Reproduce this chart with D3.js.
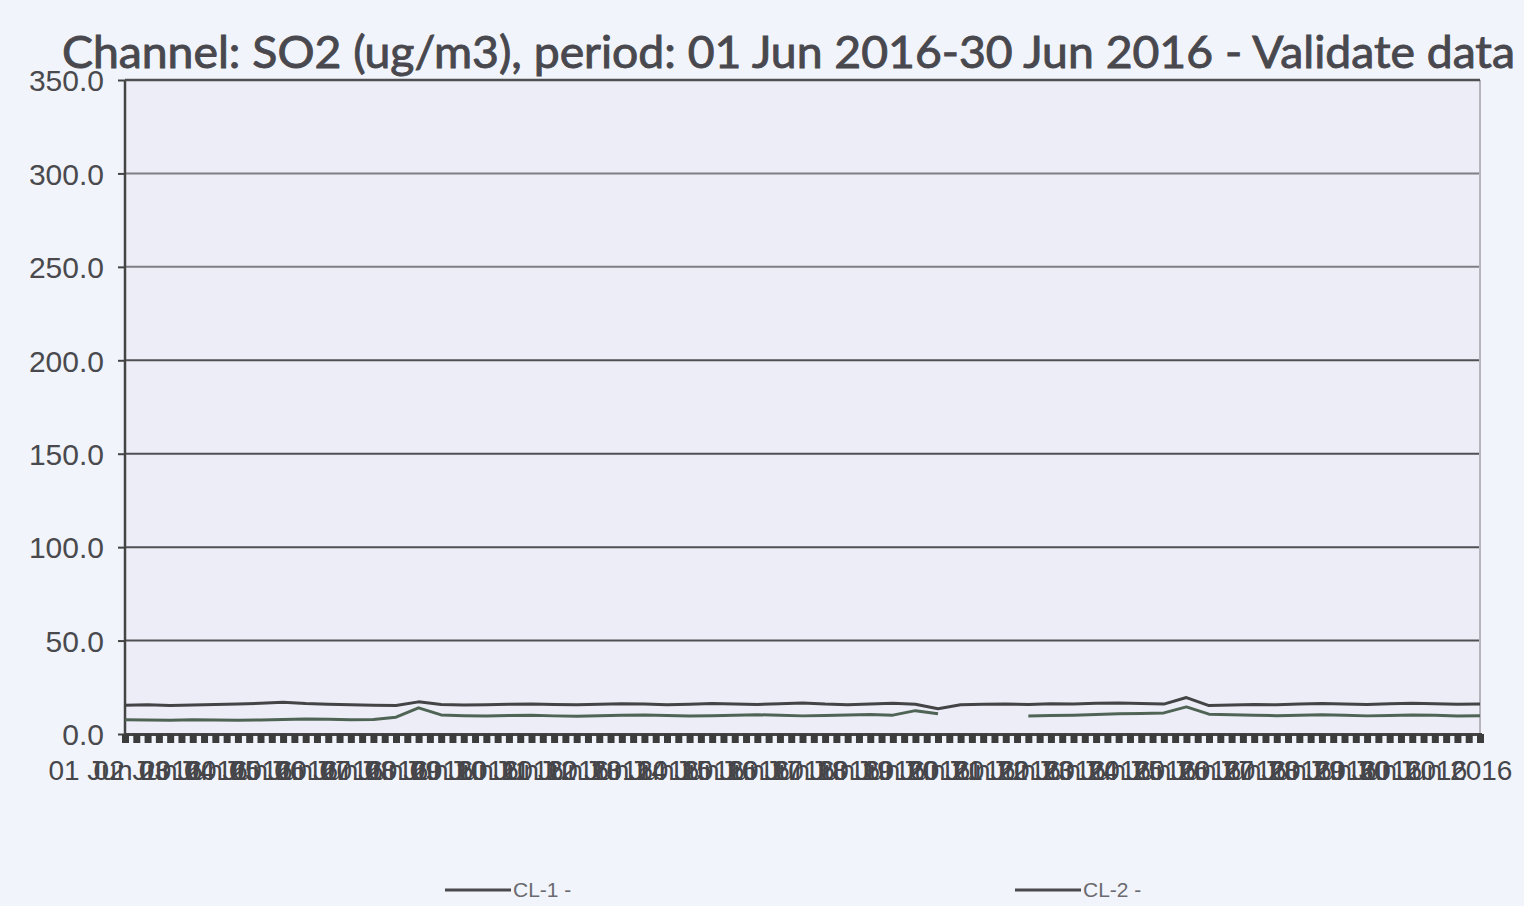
<!DOCTYPE html>
<html>
<head>
<meta charset="utf-8">
<script src="https://cdn.jsdelivr.net/npm/d3@7"></script>
<style>
  body { margin: 0; background: #f1f4fa; }
  svg { display: block; }
</style>
</head>
<body>
<svg id="chart"></svg>
<script>
// Readings every 12 hours from 01 Jun 2016 00:00 (index 0) to 01 Jul 2016 00:00 (index 60)
const cl1 = [
  15.4, 15.6, 15.3, 15.5, 15.8, 16.0, 16.4, 17.0, 16.3, 15.9,
  15.6, 15.4, 15.2, 17.2, 15.8, 15.5, 15.7, 15.9, 16.1, 15.8,
  15.6, 15.9, 16.2, 16.0, 15.7, 15.9, 16.3, 16.1, 15.8, 16.2,
  16.6, 16.0, 15.7, 16.1, 16.4, 15.9, 13.5, 15.6, 15.9, 16.1,
  15.8, 16.2, 16.0, 16.4, 16.6, 16.3, 16.0, 19.5, 15.2, 15.5,
  15.8, 15.6, 16.0, 16.3, 16.1, 15.8, 16.2, 16.5, 16.2, 15.9,
  16.1,
];
const cl2 = [
  7.6, 7.5, 7.4, 7.6, 7.5, 7.3, 7.5, 7.8, 8.0, 7.9,
  7.6, 7.8, 9.0, 14.0, 10.2, 9.8, 9.6, 9.9, 10.1, 9.7,
  9.5, 9.8, 10.0, 10.2, 9.9, 9.6, 9.8, 10.1, 10.3, 10.0,
  9.7, 9.9, 10.2, 10.4, 10.1, 12.5, 10.8, null, null, null,
  9.6, 9.9, 10.1, 10.4, 10.8, 11.0, 11.3, 14.5, 10.6, 10.3,
  10.0, 9.8, 10.1, 10.3, 10.0, 9.7, 9.9, 10.2, 10.0, 9.6,
  9.8,
];
const seriesNames = ['CL-1 -', 'CL-2 -'];
const yTicks = [0, 50, 100, 150, 200, 250, 300, 350];
const titleText = 'Channel: SO2 (ug/m3), period: 01 Jun 2016-30 Jun 2016 - Validate data';

const width = 1524;
const height = 906;
const margin = {top: 80, right: 44, bottom: 172, left: 125};

const start = new Date(2016, 5, 1);
const end = new Date(2016, 6, 1);
const stepHours = 12;
const timeAt = (i) => d3.timeHour.offset(start, i * stepHours);

const x = d3.scaleTime().domain([start, end])
    .range([margin.left, width - margin.right]);
const y = d3.scaleLinear().domain([0, 350])
    .range([height - margin.bottom, margin.top]);

const svg = d3.select('#chart')
    .attr('width', width)
    .attr('height', height)
    .attr('viewBox', [0, 0, width, height]);

// plot background
svg.append('rect')
    .attr('x', margin.left)
    .attr('y', margin.top)
    .attr('width', width - margin.left - margin.right)
    .attr('height', y(0) - margin.top)
    .attr('fill', '#ecedf7');

// horizontal grid
svg.append('g')
    .selectAll('line')
    .data(yTicks.slice(1))
    .join('line')
    .attr('x1', margin.left)
    .attr('x2', width - margin.right)
    .attr('y1', (d) => y(d))
    .attr('y2', (d) => y(d))
    .attr('stroke', (d) => d >= 250 ? '#7e7e84' : '#505054')
    .attr('stroke-width', 2);

// right border
svg.append('line')
    .attr('x1', width - margin.right).attr('x2', width - margin.right)
    .attr('y1', margin.top).attr('y2', y(0))
    .attr('stroke', '#b5b5bb').attr('stroke-width', 2);

// y axis
const yAxis = svg.append('g')
    .attr('transform', `translate(${margin.left},0)`)
    .call(d3.axisLeft(y).tickValues(yTicks).tickFormat(d3.format('.1f'))
        .tickSize(7).tickPadding(14));
yAxis.select('.domain').attr('stroke', '#444').attr('stroke-width', 2.5)
    .attr('d', `M0,${margin.top}V${y(0) + 9}`);
yAxis.selectAll('line').attr('stroke', '#444').attr('stroke-width', 2);
yAxis.selectAll('text')
    .attr('font-family', 'Liberation Sans, Arial, sans-serif')
    .attr('font-size', 30)
    .attr('fill', '#4a4a4e')
    .attr('dy', '0.36em');

// x axis: dense 6-hour ticks forming the dark band, day labels on top
const xMinor = svg.append('g')
    .attr('transform', `translate(0,${y(0)})`)
    .call(d3.axisBottom(x).ticks(d3.timeHour.every(6)).tickSize(9).tickFormat(''));
xMinor.select('.domain').attr('stroke', '#444').attr('stroke-width', 3);
xMinor.selectAll('line').attr('stroke', '#3c3c3c').attr('stroke-width', 7);

const days = d3.timeDay.range(start, end);
const xLabels = svg.append('g')
    .attr('transform', `translate(0,${y(0)})`)
    .call(d3.axisBottom(x).tickValues(days).tickSize(0).tickPadding(26)
        .tickFormat(d3.timeFormat('%d %b %Y')));
xLabels.select('.domain').remove();
xLabels.selectAll('text')
    .attr('font-family', 'Liberation Sans, Arial, sans-serif')
    .attr('font-size', 28)
    .attr('fill', '#46464a');

// top border
svg.append('line')
    .attr('x1', margin.left).attr('x2', width - margin.right)
    .attr('y1', margin.top).attr('y2', margin.top)
    .attr('stroke', '#505054').attr('stroke-width', 2.5);

// series
const line = d3.line()
    .defined((d) => d != null)
    .x((d, i) => x(timeAt(i)))
    .y((d) => y(d));
const colors = ['#444446', '#4f6455'];
svg.append('g')
    .attr('fill', 'none')
    .attr('stroke-width', 3)
    .attr('stroke-linejoin', 'round')
    .selectAll('path')
    .data([cl1, cl2])
    .join('path')
    .attr('stroke', (d, i) => colors[i])
    .attr('d', (d) => line(d));

// title (semi-bold look: regular weight with a thin outline)
svg.append('text')
    .attr('x', 62)
    .attr('y', 68)
    .attr('textLength', 1453)
    .attr('lengthAdjust', 'spacingAndGlyphs')
    .attr('font-family', 'Lato, Open Sans, sans-serif')
    .attr('font-size', 44)
    .attr('fill', '#48484e')
    .attr('stroke', '#48484e')
    .attr('stroke-width', 0.9)
    .text(titleText);

// legend
const legend = svg.append('g')
    .selectAll('g')
    .data(seriesNames)
    .join('g')
    .attr('transform', (d, i) => `translate(${445 + i * 570},890)`);
legend.append('line')
    .attr('x1', 0).attr('x2', 66)
    .attr('stroke', '#4a4a4e').attr('stroke-width', 3);
legend.append('text')
    .attr('x', 68)
    .attr('dy', '0.35em')
    .attr('font-family', 'Liberation Sans Narrow, Liberation Sans, sans-serif')
    .attr('font-size', 21)
    .attr('fill', '#6a6a70')
    .text((d) => d);
</script>
</body>
</html>
